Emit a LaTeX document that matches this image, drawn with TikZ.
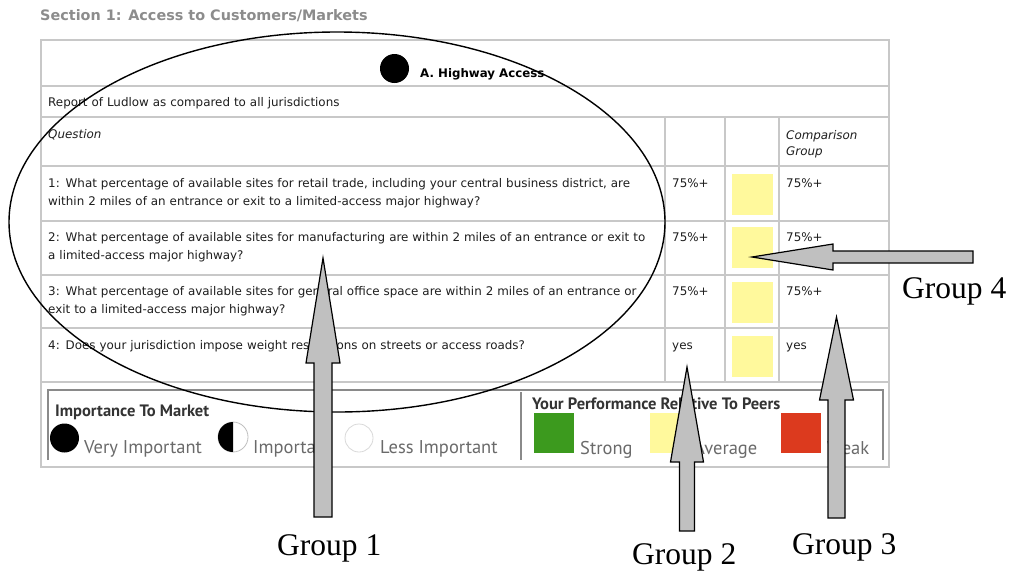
\documentclass[tikz,border=0pt]{standalone}
\usepackage{fontspec}
\setmainfont{DejaVu Sans}
\newfontfamily\legendfont{PT Sans}
\newfontfamily\groupfont{Liberation Serif}
\usetikzlibrary{positioning}
\definecolor{gridgray}{HTML}{C8C8C8}
\definecolor{framegray}{HTML}{8A8A8A}
\definecolor{celltextgray}{HTML}{1E1E1E}
\definecolor{titlegray}{HTML}{8C8C8C}
\definecolor{labelgray}{HTML}{6A6A6A}
\definecolor{avgyellow}{HTML}{FFF99C}
\definecolor{stronggreen}{HTML}{3C9A1E}
\definecolor{weakred}{HTML}{DC3A1E}
\definecolor{arrowgray}{HTML}{C0C0C0}
\tikzset{
    cell/.style={anchor=base west, inner sep=0pt, text=celltextgray,
        font=\fontsize{11.9}{18}\selectfont, align=left, text width=610pt},
    smallcell/.style={cell, text width=60pt},
    colorbox/.style={minimum size=41pt, inner sep=0pt},
    legendhead/.style={anchor=base west, inner sep=0pt, text=black!80,
        font=\legendfont\bfseries\fontsize{16.5}{18}\selectfont},
    legendlabel/.style={anchor=base west, inner sep=0pt, text=labelgray,
        font=\legendfont\fontsize{18.5}{20}\selectfont},
    grouparrow/.style={draw=black, fill=arrowgray, line width=1.2pt, line join=miter},
    grouplabel/.style={anchor=base west, inner sep=0pt,
        font=\groupfont\fontsize{31.5}{33}\selectfont}
}
\begin{document}
\begin{tikzpicture}[x=1pt, y=-1pt]
    \useasboundingbox[fill=white] (0,0) rectangle (1011,571);
    \node[anchor=base west, inner sep=0pt, text=titlegray,
        font=\bfseries\fontsize{14.4}{16}\selectfont] (sectiontitle) at (40,20)
        {Section 1: Access to Customers/Markets};
    % table frame and rules
    \draw[gridgray, line width=1.5pt] (41,40) rectangle (889,467);
    \draw[gridgray, line width=1.5pt] (41,86) -- (889,86)
        (41,117) -- (889,117) (41,166) -- (889,166) (41,221) -- (889,221)
        (41,275) -- (889,275) (41,328) -- (889,328) (41,382) -- (889,382);
    \draw[gridgray, line width=1.5pt] (665,117) -- (665,382)
        (725,117) -- (725,382) (779,117) -- (779,382);
    \draw[framegray, line width=1.2pt] (48,460) -- (48,390) -- (883,390) -- (883,460)
        (521,392) -- (521,460);
    % header
    \fill (394.5,68.5) circle (14.5pt);
    \node[anchor=base west, inner sep=0pt, font=\bfseries\fontsize{11.8}{13}\selectfont]
        (highway) at (420,77) {A. Highway Access};
    \node[cell] (report) at (48,106) {Report of Ludlow as compared to all jurisdictions};
    \node[cell, font=\itshape\fontsize{11.9}{18}\selectfont] (question) at (48,138) {Question};
    \node[smallcell, text width=100pt, font=\itshape\fontsize{11.9}{16}\selectfont]
        (comparison) at (786,139) {Comparison\\Group};
    % rows
    \node[cell] (q1) at (48,187) {1: What percentage of available sites for retail trade, including your central business district, are\\within 2 miles of an entrance or exit to a limited-access major highway?};
    \node[cell] (q2) at (48,241) {2: What percentage of available sites for manufacturing are within 2 miles of an entrance or exit to\\a limited-access major highway?};
    \node[cell] (q3) at (48,295) {3: What percentage of available sites for general office space are within 2 miles of an entrance or\\exit to a limited-access major highway?};
    \node[cell] (q4) at (48,349) {4: Does your jurisdiction impose weight restrictions on streets or access roads?};
    \node[smallcell] (you1) at (672,187) {75\%+};
    \node[smallcell] (you2) at (672,241) {75\%+};
    \node[smallcell] (you3) at (672,295) {75\%+};
    \node[smallcell] (you4) at (672,349) {yes};
    \node[colorbox, fill=avgyellow] (avg1) at (752.5,194) {};
    \node[colorbox, fill=avgyellow] (avg2) at (752.5,247) {};
    \node[colorbox, fill=avgyellow] (avg3) at (752.5,302) {};
    \node[colorbox, fill=avgyellow] (avg4) at (752.5,356) {};
    \node[smallcell] (cmp1) at (786,187) {75\%+};
    \node[smallcell] (cmp2) at (786,241) {75\%+};
    \node[smallcell] (cmp3) at (786,295) {75\%+};
    \node[smallcell] (cmp4) at (786,349) {yes};
    % legend
    \node[legendhead] (importance) at (55,416) {Importance To Market};
    \fill (64.5,438) circle (14.5pt);
    \node[legendlabel] (veryimp) at (84,453) {Very Important};
    \draw[black!25, line width=0.8pt] (233,437) circle (15pt);
    \fill (233,422) arc (90:270:15pt) -- cycle;
    \node[legendlabel] (imp) at (253,453) {Important};
    \draw[black!15, line width=0.8pt] (359,438) circle (14pt);
    \node[legendlabel] (lessimp) at (380,453) {Less Important};
    \node[legendhead] (peers) at (532,409) {Your Performance Relative To Peers};
    \node[colorbox, minimum size=40pt, fill=stronggreen] (strongbox) at (553.5,433) {};
    \node[legendlabel] (strong) at (580,454) {Strong};
    \node[colorbox, minimum size=40pt, fill=avgyellow] (avgbox) at (670,433) {};
    \node[legendlabel] (average) at (694,454) {Average};
    \node[colorbox, minimum size=40pt, fill=weakred] (weakbox) at (800.5,433) {};
    \node[legendlabel] (weak) at (827,454) {Weak};
    % groups
    \draw[line width=1.4pt] (337,222) ellipse [x radius=328pt, y radius=190pt];
    \coordinate (g1tip) at (323,258);
    \coordinate (g2tip) at (687,367);
    \coordinate (g3tip) at (836.5,317);
    \coordinate (g4tip) at (752,257);
    \draw[grouparrow] (g1tip) -- ++(17,105) -- ++(-8,0) -- ++(0,154) -- ++(-18,0)
        -- ++(0,-154) -- ++(-8,0) -- cycle;
    \draw[grouparrow] (g2tip) -- ++(16.5,95) -- ++(-9,0) -- ++(0,69) -- ++(-15,0)
        -- ++(0,-69) -- ++(-9,0) -- cycle;
    \draw[grouparrow] (g3tip) -- ++(17,83) -- ++(-8.5,0) -- ++(0,118) -- ++(-17,0)
        -- ++(0,-118) -- ++(-8.5,0) -- cycle;
    \draw[grouparrow] (g4tip) -- ++(81,-13) -- ++(0,7) -- ++(140,0) -- ++(0,12)
        -- ++(-140,0) -- ++(0,7) -- cycle;
    \node[grouplabel] (group1) at (277,555) {Group 1};
    \node[grouplabel] (group2) at (632,564) {Group 2};
    \node[grouplabel] (group3) at (792,554) {Group 3};
    \node[grouplabel] (group4) at (902,298) {Group 4};
\end{tikzpicture}
\end{document}
